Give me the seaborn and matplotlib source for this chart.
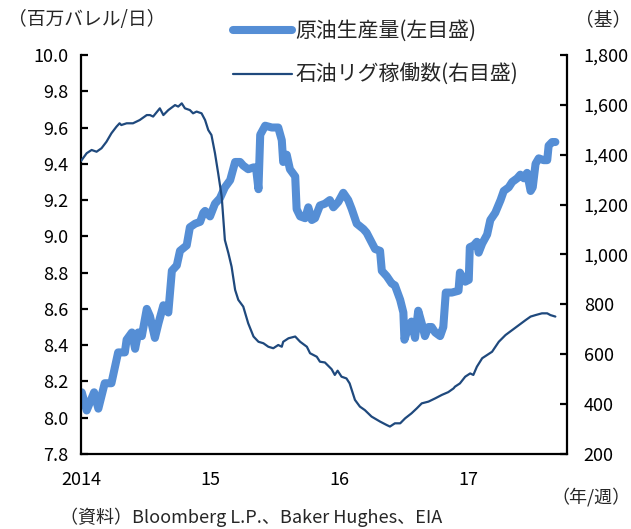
import matplotlib
matplotlib.use("Agg")
import matplotlib.pyplot as plt
import matplotlib.ticker as mticker
import pandas as pd
import seaborn as sns

# US crude oil production (million barrels per day), weekly readings
prod_dates = [
    "2014-01-03", "2014-01-17", "2014-02-07", "2014-02-19", "2014-03-09", "2014-03-28",
    "2014-04-16", "2014-05-05", "2014-05-10", "2014-05-25", "2014-06-03", "2014-06-12",
    "2014-06-22", "2014-07-06", "2014-07-15", "2014-07-29", "2014-08-08", "2014-08-22",
    "2014-09-05", "2014-09-15", "2014-09-29", "2014-10-08", "2014-10-27", "2014-11-05",
    "2014-11-20", "2014-12-04", "2014-12-13", "2014-12-18", "2015-01-01", "2015-01-15",
    "2015-01-29", "2015-02-12", "2015-02-27", "2015-03-13", "2015-03-27", "2015-04-05",
    "2015-04-19", "2015-05-04", "2015-05-11", "2015-05-18", "2015-05-23", "2015-06-06",
    "2015-06-25", "2015-07-13", "2015-07-23", "2015-07-27", "2015-08-06", "2015-08-15",
    "2015-08-30", "2015-09-03", "2015-09-13", "2015-09-27", "2015-10-06", "2015-10-16",
    "2015-10-25", "2015-11-08", "2015-11-22", "2015-12-06", "2015-12-16", "2015-12-30",
    "2016-01-13", "2016-01-27", "2016-02-06", "2016-02-20", "2016-03-10", "2016-03-19",
    "2016-04-12", "2016-04-26", "2016-05-01", "2016-05-15", "2016-05-29", "2016-06-07",
    "2016-06-22", "2016-07-01", "2016-07-04", "2016-07-15", "2016-07-24", "2016-08-03",
    "2016-08-12", "2016-08-22", "2016-08-31", "2016-09-10", "2016-09-19", "2016-09-29",
    "2016-10-13", "2016-10-22", "2016-10-29", "2016-11-15", "2016-12-04", "2016-12-08",
    "2016-12-23", "2017-01-02", "2017-01-05", "2017-01-16", "2017-01-25", "2017-01-30",
    "2017-02-09", "2017-02-23", "2017-03-04", "2017-03-18", "2017-04-02", "2017-04-11",
    "2017-04-25", "2017-05-05", "2017-05-19", "2017-05-28", "2017-06-07", "2017-06-16",
    "2017-06-26", "2017-07-02", "2017-07-10", "2017-07-19", "2017-08-02", "2017-08-12",
    "2017-08-16", "2017-08-26", "2017-09-04",
]
prod_values = [
    8.14, 8.04, 8.14, 8.05, 8.19, 8.19,
    8.36, 8.36, 8.43, 8.47, 8.38, 8.47,
    8.45, 8.60, 8.56, 8.44, 8.52, 8.62,
    8.58, 8.81, 8.84, 8.92, 8.95, 9.05,
    9.07, 9.08, 9.13, 9.14, 9.11, 9.18,
    9.21, 9.27, 9.31, 9.41, 9.41, 9.39,
    9.37, 9.38, 9.38, 9.26, 9.56, 9.61,
    9.60, 9.60, 9.53, 9.41, 9.45, 9.37,
    9.33, 9.15, 9.11, 9.10, 9.16, 9.09,
    9.10, 9.17, 9.18, 9.20, 9.16, 9.19,
    9.24, 9.20, 9.15, 9.07, 9.04, 9.02,
    8.93, 8.92, 8.81, 8.78, 8.74, 8.73,
    8.65, 8.58, 8.43, 8.50, 8.53, 8.44,
    8.59, 8.52, 8.45, 8.50, 8.50, 8.47,
    8.45, 8.50, 8.69, 8.69, 8.70, 8.80,
    8.75, 8.76, 8.94, 8.95, 8.97, 8.91,
    8.96, 9.01, 9.09, 9.13, 9.20, 9.25,
    9.27, 9.30, 9.32, 9.34, 9.32, 9.35,
    9.25, 9.27, 9.40, 9.43, 9.42, 9.42,
    9.50, 9.52, 9.52,
]

# Baker Hughes oil rig count (rigs), weekly readings
rig_dates = [
    "2014-01-01", "2014-01-17", "2014-01-31", "2014-02-14", "2014-02-28", "2014-03-14",
    "2014-03-28", "2014-04-11", "2014-04-20", "2014-04-25", "2014-05-10", "2014-05-28",
    "2014-06-16", "2014-07-06", "2014-07-15", "2014-07-24", "2014-08-12", "2014-08-22",
    "2014-09-05", "2014-09-24", "2014-10-03", "2014-10-13", "2014-10-22", "2014-11-05",
    "2014-11-14", "2014-11-24", "2014-12-08", "2014-12-18", "2014-12-27", "2015-01-05",
    "2015-01-15", "2015-01-24", "2015-02-03", "2015-02-12", "2015-02-22", "2015-03-03",
    "2015-03-13", "2015-03-22", "2015-04-05", "2015-04-19", "2015-05-04", "2015-05-18",
    "2015-06-01", "2015-06-15", "2015-06-29", "2015-07-13", "2015-07-23", "2015-07-27",
    "2015-08-11", "2015-08-30", "2015-09-13", "2015-10-02", "2015-10-11", "2015-10-30",
    "2015-11-08", "2015-11-22", "2015-12-11", "2015-12-20", "2015-12-28", "2016-01-08",
    "2016-01-22", "2016-01-31", "2016-02-15", "2016-02-29", "2016-03-14", "2016-04-02",
    "2016-04-26", "2016-05-15", "2016-05-24", "2016-06-07", "2016-06-22", "2016-07-06",
    "2016-07-24", "2016-08-08", "2016-08-22", "2016-09-10", "2016-09-29", "2016-10-18",
    "2016-11-05", "2016-11-20", "2016-11-24", "2016-12-08", "2016-12-23", "2017-01-06",
    "2017-01-15", "2017-01-25", "2017-02-09", "2017-02-23", "2017-03-09", "2017-03-28",
    "2017-04-16", "2017-05-05", "2017-05-24", "2017-06-12", "2017-06-26", "2017-07-10",
    "2017-07-28", "2017-08-12", "2017-08-21", "2017-09-04",
]
rig_values = [
    1375, 1406, 1419, 1412, 1426, 1452,
    1486, 1512, 1526, 1519, 1526, 1526,
    1539, 1559, 1559, 1553, 1586, 1559,
    1579, 1599, 1593, 1606, 1586, 1579,
    1566, 1573, 1566, 1539, 1499, 1479,
    1406, 1326, 1232, 1058, 1005, 951,
    858, 818, 791, 724, 671, 650,
    644, 630, 624, 637, 630, 650,
    664, 671, 650, 630, 604, 590,
    570, 567, 540, 517, 534, 510,
    503, 483, 417, 390, 376, 350,
    330, 316, 310, 323, 323, 343,
    363, 383, 403, 410, 423, 437,
    448, 463, 470, 483, 510, 523,
    517, 550, 584, 597, 610, 650,
    677, 697, 717, 737, 751, 757,
    764, 764, 757, 751,
]

year_ticks = ["2014-01-01", "2015-01-01", "2016-01-01", "2017-01-01"]
year_labels = ["2014", "15", "16", "17"]
left_ticks = [7.8, 8.0, 8.2, 8.4, 8.6, 8.8, 9.0, 9.2, 9.4, 9.6, 9.8, 10.0]
right_ticks = [200, 400, 600, 800, 1000, 1200, 1400, 1600, 1800]

PROD_LABEL = "原油生産量(左目盛)"
RIG_LABEL = "石油リグ稼働数(右目盛)"

sns.set_style("white")
plt.rcParams["font.family"] = ["Noto Sans CJK JP", "DejaVu Sans"]
FS = 13

prod = pd.DataFrame({"date": pd.to_datetime(prod_dates), "value": prod_values})
rig = pd.DataFrame({"date": pd.to_datetime(rig_dates), "value": rig_values})

fig = plt.figure(figsize=(6.31, 5.29), dpi=100)
ax = fig.add_axes([0.1284, 0.1418, 0.7702, 0.7543])
ax2 = ax.twinx()

sns.lineplot(data=prod, x="date", y="value", ax=ax, color="#558ED5",
             linewidth=5.8, label=PROD_LABEL, legend=False,
             solid_capstyle="round", solid_joinstyle="round")
sns.lineplot(data=rig, x="date", y="value", ax=ax2, color="#1F497D",
             linewidth=1.6, label=RIG_LABEL, legend=False)

ax.set_xlim(pd.Timestamp("2014-01-01"), pd.Timestamp("2017-10-07"))
ax.set_ylim(7.8, 10.0)
ax2.set_ylim(200, 1800)

ax.set_xticks(pd.to_datetime(year_ticks))
ax.set_xticklabels(year_labels)
ax.set_yticks(left_ticks)
ax.yaxis.set_major_formatter(mticker.FormatStrFormatter("%.1f"))
ax2.set_yticks(right_ticks)
ax2.yaxis.set_major_formatter(mticker.FuncFormatter(lambda v, p: f"{int(v):,}"))

for a in (ax, ax2):
    a.set_xlabel("")
    a.set_ylabel("")
    a.grid(False)
    for side in ("left", "right", "bottom"):
        a.spines[side].set_color("black")
        a.spines[side].set_linewidth(1.6)
    a.spines["top"].set_visible(False)

ax.spines["right"].set_visible(False)
ax2.spines["left"].set_visible(False)
ax2.spines["bottom"].set_visible(False)

ax.tick_params(axis="y", direction="in", length=5, width=1.6, pad=9,
               labelsize=FS, colors="black")
ax2.tick_params(axis="y", direction="in", length=5, width=1.6, pad=12,
                labelsize=FS, colors="black")
ax.tick_params(axis="x", direction="out", length=5, width=1.6, pad=7,
               labelsize=FS, colors="black")

handles = [ax.get_lines()[0], ax2.get_lines()[0]]
fig.legend(handles=handles, labels=[PROD_LABEL, RIG_LABEL],
           loc="upper left", bbox_to_anchor=(0.369, 0.962),
           frameon=False, fontsize=15, handlelength=2.85,
           handletextpad=0.15, labelspacing=1.05, borderpad=0, borderaxespad=0)

fig.text(8 / 631, 1 - 20 / 529, "（百万バレル/日）", ha="left", va="center", fontsize=13.5)
fig.text(1.0, 1 - 20 / 529, "（基）", ha="right", va="center", fontsize=13.5)
fig.text(1.0, 1 - 497 / 529, "（年/週）", ha="right", va="center", fontsize=FS)
fig.text(60 / 631, 0.004, "（資料）Bloomberg L.P.、Baker Hughes、EIA",
         ha="left", va="bottom", fontsize=FS)

fig.savefig("out.png", dpi=100)
